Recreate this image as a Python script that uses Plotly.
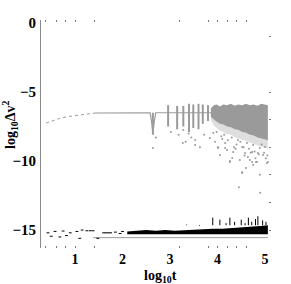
import plotly.graph_objects as go

# ---------------- data ----------------
# gray series: early dotted part and flat part
g_early_x = [0.39, 0.55, 0.68, 0.85, 1.0, 1.2, 1.42]
g_early_y = [-7.25, -7.05, -6.9, -6.78, -6.7, -6.6, -6.52]
g_line_x = [1.42, 1.8, 2.2, 2.58, 2.61, 2.64, 2.67, 2.70, 3.0, 3.4, 3.88]
g_line_y = [-6.52, -6.5, -6.5, -6.5, -7.1, -8.0, -7.1, -6.5, -6.5, -6.5, -6.5]

# gray spikes (vertical bursts)
g_spike_x = [2.64, 2.96, 3.15, 3.28, 3.40, 3.49, 3.60, 3.69, 3.80]
g_spike_top = [-6.5, -5.95, -6.0, -6.0, -5.85, -5.9, -5.85, -5.9, -5.95]
g_spike_bot = [-8.1, -7.5, -7.7, -7.5, -7.9, -7.6, -7.7, -7.3, -7.1]

# gray dense band
g_band_x = [3.86, 3.92, 3.98, 4.05, 4.12, 4.2, 4.28, 4.36, 4.44, 4.52, 4.6, 4.68, 4.76, 4.84, 4.92, 5.0, 5.06]
g_band_top = [-6.2, -5.95, -5.9, -6.05, -5.9, -5.95, -5.85, -6.0, -5.9, -5.95, -5.85, -5.95, -5.9, -6.0, -5.85, -5.9, -5.95]
g_band_bot = [-6.8, -7.0, -7.15, -7.3, -7.35, -7.5, -7.55, -7.7, -7.75, -7.9, -7.95, -8.1, -8.15, -8.3, -8.35, -8.45, -8.5]
g_haze_bot = [-7.0, -7.4, -7.6, -7.8, -7.9, -8.05, -8.1, -8.25, -8.35, -8.5, -8.55, -8.7, -8.75, -8.9, -8.95, -9.05, -9.1]

# gray scattered points
g_pts_x = [3.28, 3.39, 3.53, 3.53, 3.84, 3.91, 4.01, 4.16, 4.26, 4.33, 4.43, 4.52, 4.58, 4.64, 4.68,
           4.73, 4.81, 4.89, 4.96, 5.04, 2.64, 3.27, 4.01, 4.75, 5.0, 3.63, 4.16, 4.05, 4.31, 4.47,
           4.52, 4.75, 4.85, 5.06, 4.26, 4.52, 4.73, 4.89, 4.83, 2.70, 3.02, 3.18, 3.33, 3.45, 3.72,
           3.95, 4.1, 4.2, 4.38, 4.62, 4.7, 4.93, 5.02, 4.45, 4.9, 4.6,
           3.98, 4.08, 4.14, 4.22, 4.3, 4.4, 4.48, 4.55, 4.66, 4.78, 4.87, 4.98, 5.05, 4.35, 4.57, 4.8]
g_pts_y = [-7.75, -8.0, -8.48, -8.84, -8.33, -7.97, -9.06, -8.7, -10.0, -9.35, -8.48, -8.99, -9.42, -9.7, -9.93,
           -9.35, -10.07, -9.06, -9.57, -10.14, -9.06, -8.7, -8.99, -8.84, -8.99, -9.0, -9.06, -9.57, -9.78, -9.93,
           -10.87, -10.29, -9.42, -10.07, -10.07, -10.8, -10.07, -11.0, -10.07, -8.3, -7.9, -8.1, -8.6, -8.3, -8.1,
           -8.6, -8.4, -9.2, -9.1, -8.7, -9.4, -8.8, -9.8, -11.9, -12.3, -10.5,
           -7.9, -8.2, -8.1, -8.5, -8.3, -8.8, -8.6, -9.0, -9.1, -9.3, -9.5, -9.4, -9.6, -9.0, -9.6, -9.8]

# gray floor line
g_floor_x = [1.38, 5.06]
g_floor_y = [-15.55, -15.55]

# black series: dense band
k_band_x = [2.1, 2.3, 2.5, 2.7, 2.9, 3.1, 3.3, 3.5, 3.7, 3.9, 4.1, 4.3, 4.5, 4.7, 4.9, 5.06]
k_band_top = [-15.1, -15.05, -15.0, -15.05, -15.0, -15.05, -15.0, -15.0, -14.95, -14.9, -14.9, -14.85, -14.85, -14.75, -14.7, -14.65]
k_band_bot = [-15.3, -15.3, -15.3, -15.3, -15.3, -15.3, -15.3, -15.3, -15.3, -15.3, -15.3, -15.3, -15.3, -15.3, -15.3, -15.3]

# black spikes
k_spike_x = [3.35, 3.62, 3.9, 4.05, 4.18, 4.26, 4.36, 4.5, 4.58, 4.65, 4.72, 4.8, 4.85, 4.95, 5.02]
k_spike_top = [-14.6, -14.7, -14.1, -14.25, -14.5, -14.1, -14.4, -14.25, -14.5, -14.1, -14.4, -14.2, -14.0, -14.3, -14.4]

# black sparse points (early times)
k_pts_x = [0.43, 0.58, 0.75, 0.9, 0.68, 1.04, 1.15, 1.25, 1.32, 1.38, 1.1, 1.48, 1.6, 1.65, 1.7, 1.75, 1.85, 1.95, 2.0, 0.5, 0.82]
k_pts_y = [-15.2, -15.1, -15.07, -15.2, -15.5, -15.1, -15.0, -15.05, -15.05, -15.05, -15.6, -15.6, -15.2, -15.2, -15.2, -15.2, -15.15, -15.25, -15.1, -15.45, -15.4]

# tick marks
y_tick_vals = [0, -5, -10, -15]
y_tick_text = ["<b>0</b>", "<b>\u22125</b>", "<b>\u221210</b>", "<b>\u221215</b>"]
x_tick_vals = [1, 2, 3, 4, 5]
x_tick_text = ["<b>1</b>", "<b>2</b>", "<b>3</b>", "<b>4</b>", "<b>5</b>"]
x_minor_ticks = [0.38, 0.6, 0.8, 1.0, 1.4, 3.2, 3.8, 4.0, 4.2, 4.4, 4.6]
y_minor_ticks = [-1.0, -5.0, -7.0, -9.0, -11.0, -13.0, -15.0]

GRAY = "#9a9a9a"
FONT = "Liberation Serif"

def segs(xs, tops, bots):
    X, Y = [], []
    for x, t, b in zip(xs, tops, bots):
        X += [x, x, None]
        Y += [t, b, None]
    return X, Y

fig = go.Figure()

# gray haze + band
fig.add_trace(go.Scatter(x=g_band_x + g_band_x[::-1], y=g_band_bot + g_haze_bot[::-1],
                         fill="toself", fillcolor="#dedede", line=dict(width=0), mode="lines", hoverinfo="skip"))
fig.add_trace(go.Scatter(x=g_band_x + g_band_x[::-1], y=g_band_top + g_band_bot[::-1],
                         fill="toself", fillcolor=GRAY, line=dict(width=0), mode="lines", hoverinfo="skip"))
fig.add_trace(go.Scatter(x=g_early_x, y=g_early_y, mode="lines", line=dict(color=GRAY, width=1, dash="dot")))
fig.add_trace(go.Scatter(x=g_line_x, y=g_line_y, mode="lines", line=dict(color=GRAY, width=1.2)))
sx, sy = segs(g_spike_x, g_spike_top, g_spike_bot)
fig.add_trace(go.Scatter(x=sx, y=sy, mode="lines", line=dict(color=GRAY, width=2)))
fig.add_trace(go.Scatter(x=g_pts_x, y=g_pts_y, mode="markers", marker=dict(color=GRAY, size=2)))
fig.add_trace(go.Scatter(x=g_floor_x, y=g_floor_y, mode="lines", line=dict(color=GRAY, width=1)))

# black
fig.add_trace(go.Scatter(x=k_band_x + k_band_x[::-1], y=k_band_top + k_band_bot[::-1],
                         fill="toself", fillcolor="black", line=dict(width=0), mode="lines", hoverinfo="skip"))
kx, ky = segs(k_spike_x, k_spike_top, [k_band_top[-1]] * len(k_spike_x))
fig.add_trace(go.Scatter(x=kx, y=ky, mode="lines", line=dict(color="black", width=1)))
fig.add_trace(go.Scatter(x=k_pts_x, y=k_pts_y, mode="markers", marker=dict(color="black", size=2, symbol="line-ew",
                                                                          line=dict(width=1, color="black"))))

# invisible trace to activate secondary axes
fig.add_trace(go.Scatter(x=[1], y=[0], xaxis="x2", yaxis="y2", mode="markers", marker=dict(opacity=0)))

fig.update_layout(
    width=291, height=284, showlegend=False,
    margin=dict(l=41, r=20, t=20, b=36),
    paper_bgcolor="white", plot_bgcolor="white",
    font=dict(family=FONT, size=14, color="black"),
    xaxis=dict(range=[0.284, 5.126], tickvals=x_tick_vals, ticktext=x_tick_text, ticks="",
               showline=False, showgrid=False, zeroline=False,
               tickfont=dict(family=FONT, size=14, color="black"), ticklabelstandoff=1),
    yaxis=dict(range=[-16.3, 0.22], tickvals=y_tick_vals, ticktext=y_tick_text, ticks="",
               showline=True, linecolor="#8a8a8a", linewidth=1, showgrid=False, zeroline=False,
               tickfont=dict(family=FONT, size=15, color="black"), ticklabelstandoff=1),
    xaxis2=dict(range=[0.284, 5.126], overlaying="x", anchor="y2", side="bottom", tickvals=x_minor_ticks,
                ticks="inside", ticklen=2, tickcolor="#777777", mirror="ticks", showticklabels=False,
                showline=False, showgrid=False, zeroline=False),
    yaxis2=dict(range=[-16.3, 0.22], overlaying="y", anchor="x2", side="right", tickvals=y_minor_ticks,
                ticks="inside", ticklen=2, tickcolor="#777777", showticklabels=False,
                showline=False, showgrid=False, zeroline=False),
    annotations=[
        dict(text="<b>log<sub>10</sub>t</b>", x=(160 - 41) / 230, y=-(276 - 248) / 228,
             xref="paper", yref="paper", xanchor="center", yanchor="middle",
             showarrow=False, font=dict(family=FONT, size=14)),
        dict(text="<b>log<sub>10</sub>\u0394v<sup>2</sup></b>", x=-(41 - 10) / 230, y=(248 - 125) / 228,
             xref="paper", yref="paper", xanchor="center", yanchor="middle",
             showarrow=False, textangle=-90, font=dict(family=FONT, size=14)),
    ],
)

fig.write_html("out.html", config={"displayModeBar": False},
               post_script="document.body.style.margin='0';document.body.style.padding='0';")
